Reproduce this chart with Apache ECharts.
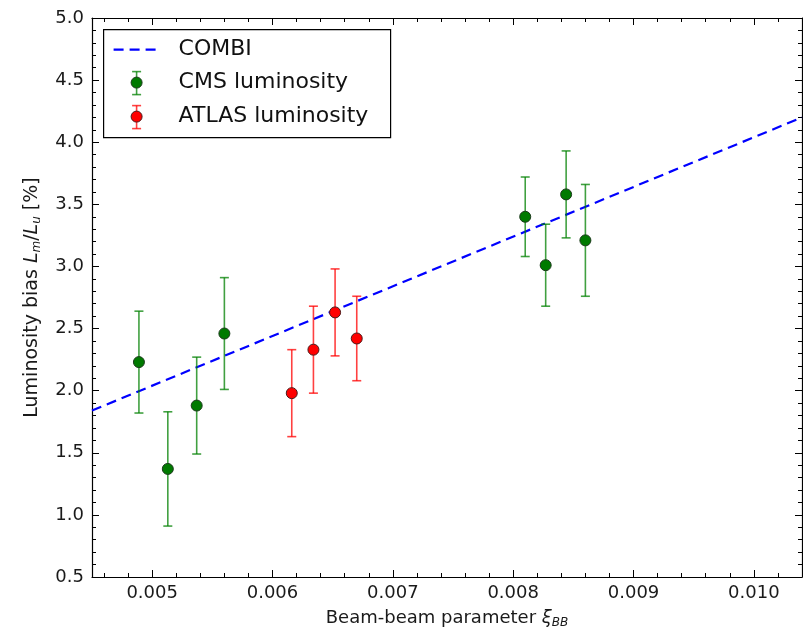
<!DOCTYPE html>
<html>
<head>
<meta charset="utf-8">
<script src="https://cdn.jsdelivr.net/npm/echarts@6/dist/echarts.min.js"></script>
<style>
  html, body { margin: 0; padding: 0; background: #fff; }
  #chart { width: 803px; height: 631px; }
</style>
</head>
<body>
<div id="chart"></div>
<script>
// Beam-beam parameter vs. luminosity bias
const cmsX   = [0.00489, 0.00513, 0.00537, 0.00560, 0.00810, 0.00827, 0.00844, 0.00860];
const cmsY   = [2.23, 1.37, 1.88, 2.46, 3.40, 3.01, 3.58, 3.21];
const cmsErr = [0.41, 0.46, 0.39, 0.45, 0.32, 0.33, 0.35, 0.45];

const atlasX   = [0.00616, 0.00634, 0.00652, 0.00670];
const atlasY   = [1.98, 2.33, 2.63, 2.42];
const atlasErr = [0.35, 0.35, 0.35, 0.34];

const combiX = [0.0045, 0.0104];
const combiY = [1.84, 4.20];

const xTicks = [0.005, 0.006, 0.007, 0.008, 0.009, 0.010];
const xMinorStep = 0.0002;
const xMin = 0.0045, xMax = 0.0104;
const yMin = 0.5, yMax = 5.0, yStep = 0.5;

const FONT = 'DejaVu Sans';
const CMS_BAR = 'rgba(0,128,0,0.75)';
const CMS_DOT = '#007a00';
const ATLAS_BAR = 'rgba(255,0,0,0.75)';
const ATLAS_DOT = '#ff0000';
const COMBI_COLOR = '#0000ff';

// minor tick positions along x (skip those on major ticks)
const xMinor = [];
for (let v = 0.0046; v < xMax; v += xMinorStep) {
  const r = Math.round(v * 1e5) / 1e5;
  if (Math.abs(r * 1000 - Math.round(r * 1000)) > 1e-6) xMinor.push(r);
}

function errorBars(xs, ys, es) {
  return xs.map((x, i) => [x, ys[i], es[i]]);
}

function renderErr(color) {
  return function (params, api) {
    const x = api.value(0), y = api.value(1), e = api.value(2);
    const top = api.coord([x, y + e]);
    const bot = api.coord([x, y - e]);
    const cap = 4.5;
    const st = { stroke: color, lineWidth: 1.6 };
    return {
      type: 'group',
      children: [
        { type: 'line', shape: { x1: top[0], y1: top[1], x2: bot[0], y2: bot[1] }, style: st },
        { type: 'line', shape: { x1: top[0] - cap, y1: top[1], x2: top[0] + cap, y2: top[1] }, style: st },
        { type: 'line', shape: { x1: bot[0] - cap, y1: bot[1], x2: bot[0] + cap, y2: bot[1] }, style: st }
      ]
    };
  };
}

const tickFmt = v => v.toFixed(3);

function xAxisDef(position, major, showLabel, showLine) {
  return {
    type: 'value', position: position, min: xMin, max: xMax, gridIndex: 0,
    axisLine: { show: showLine, onZero: false, lineStyle: { color: '#000', width: 1.2 } },
    axisTick: { show: true, inside: true, length: major ? 7 : 4,
      customValues: major ? xTicks : xMinor, lineStyle: { color: '#000', width: 1 } },
    axisLabel: { show: showLabel, customValues: xTicks, formatter: tickFmt, margin: 7,
      color: '#1a1a1a', fontFamily: FONT, fontSize: 18 },
    splitLine: { show: false }
  };
}

function yAxisDef(position, showLabel) {
  return {
    type: 'value', position: position, min: yMin, max: yMax, interval: yStep,
    axisLine: { show: true, onZero: false, lineStyle: { color: '#000', width: 1.2 } },
    axisTick: { show: true, inside: true, length: 7, lineStyle: { color: '#000', width: 1 } },
    minorTick: { show: true, splitNumber: 5, length: 4, lineStyle: { color: '#000', width: 1 } },
    axisLabel: { show: showLabel, formatter: v => v.toFixed(1), margin: 8,
      color: '#1a1a1a', fontFamily: FONT, fontSize: 18 },
    splitLine: { show: false },
    minorSplitLine: { show: false }
  };
}

const xBottom = xAxisDef('bottom', true, true, true);
xBottom.name = '{t|Beam-beam parameter }{i|ξ}{s|BB}';
xBottom.nameLocation = 'middle';
xBottom.nameGap = 30;
xBottom.nameTextStyle = {
  rich: {
    t: { fontFamily: FONT, fontSize: 18, color: '#1a1a1a' },
    i: { fontFamily: FONT, fontSize: 18, fontStyle: 'italic', color: '#1a1a1a' },
    s: { fontFamily: FONT, fontSize: 12, fontStyle: 'italic', color: '#1a1a1a', padding: [10, 0, 0, 0] }
  }
};

const yLeft = yAxisDef('left', true);
yLeft.name = '{t|Luminosity bias }{i|L}{s|m}{t|/}{i|L}{s|u}{t| [%]}';
yLeft.nameLocation = 'middle';
yLeft.nameGap = 49;
yLeft.nameTextStyle = {
  rich: {
    t: { fontFamily: FONT, fontSize: 19, color: '#1a1a1a' },
    i: { fontFamily: FONT, fontSize: 19, fontStyle: 'italic', color: '#1a1a1a' },
    s: { fontFamily: FONT, fontSize: 12, fontStyle: 'italic', color: '#1a1a1a', padding: [10, 0, 0, 0] }
  }
};

const option = {
  backgroundColor: '#fff',
  animation: false,
  grid: { left: 92, right: 1, top: 18, bottom: 54, containLabel: false, outerBoundsMode: 'none' },
  xAxis: [
    xBottom,
    xAxisDef('bottom', false, false, false),
    xAxisDef('top', true, false, true),
    xAxisDef('top', false, false, false)
  ],
  yAxis: [yLeft, yAxisDef('right', false)],
  series: [
    {
      name: 'COMBI', type: 'line', xAxisIndex: 0, yAxisIndex: 0,
      data: combiX.map((x, i) => [x, combiY[i]]),
      showSymbol: false, symbol: 'none', z: 2,
      lineStyle: { color: COMBI_COLOR, width: 2.2, type: [10, 6] }
    },
    {
      name: 'CMS err', type: 'custom', xAxisIndex: 0, yAxisIndex: 0, z: 3,
      data: errorBars(cmsX, cmsY, cmsErr), renderItem: renderErr(CMS_BAR)
    },
    {
      name: 'ATLAS err', type: 'custom', xAxisIndex: 0, yAxisIndex: 0, z: 3,
      data: errorBars(atlasX, atlasY, atlasErr), renderItem: renderErr(ATLAS_BAR)
    },
    {
      name: 'CMS luminosity', type: 'scatter', xAxisIndex: 0, yAxisIndex: 0, z: 4,
      data: cmsX.map((x, i) => [x, cmsY[i]]), symbolSize: 11,
      itemStyle: { color: CMS_DOT, borderColor: '#1c3a1c', borderWidth: 1, opacity: 1 }
    },
    {
      name: 'ATLAS luminosity', type: 'scatter', xAxisIndex: 0, yAxisIndex: 0, z: 4,
      data: atlasX.map((x, i) => [x, atlasY[i]]), symbolSize: 11,
      itemStyle: { color: ATLAS_DOT, borderColor: '#4a1a1a', borderWidth: 1, opacity: 1 }
    }
  ],
  graphic: [
    {
      type: 'group', left: 103, top: 29, z: 10,
      children: [
        { type: 'rect', shape: { x: 0, y: 0, width: 287, height: 108 },
          style: { fill: '#fff', stroke: '#000', lineWidth: 1.2 } },
        { type: 'line', shape: { x1: 10, y1: 20, x2: 57, y2: 20 },
          style: { stroke: COMBI_COLOR, lineWidth: 2.2, lineDash: [10, 6] } },
        { type: 'line', shape: { x1: 33, y1: 42, x2: 33, y2: 65 }, style: { stroke: CMS_BAR, lineWidth: 1.6 } },
        { type: 'line', shape: { x1: 28.5, y1: 42, x2: 37.5, y2: 42 }, style: { stroke: CMS_BAR, lineWidth: 1.6 } },
        { type: 'line', shape: { x1: 28.5, y1: 65, x2: 37.5, y2: 65 }, style: { stroke: CMS_BAR, lineWidth: 1.6 } },
        { type: 'circle', shape: { cx: 33, cy: 53, r: 5.5 },
          style: { fill: CMS_DOT, stroke: '#1c3a1c', lineWidth: 1 } },
        { type: 'line', shape: { x1: 33, y1: 76, x2: 33, y2: 99 }, style: { stroke: ATLAS_BAR, lineWidth: 1.6 } },
        { type: 'line', shape: { x1: 28.5, y1: 76, x2: 37.5, y2: 76 }, style: { stroke: ATLAS_BAR, lineWidth: 1.6 } },
        { type: 'line', shape: { x1: 28.5, y1: 99, x2: 37.5, y2: 99 }, style: { stroke: ATLAS_BAR, lineWidth: 1.6 } },
        { type: 'circle', shape: { cx: 33, cy: 87, r: 5.5 },
          style: { fill: ATLAS_DOT, stroke: '#4a1a1a', lineWidth: 1 } },
        { type: 'text', x: 75, y: 20, style: { text: 'COMBI', fontFamily: FONT, fontSize: 22,
          fill: '#111', verticalAlign: 'middle' } },
        { type: 'text', x: 75, y: 53, style: { text: 'CMS luminosity', fontFamily: FONT, fontSize: 22,
          fill: '#111', verticalAlign: 'middle' } },
        { type: 'text', x: 75, y: 87, style: { text: 'ATLAS luminosity', fontFamily: FONT, fontSize: 22,
          fill: '#111', verticalAlign: 'middle' } }
      ]
    }
  ]
};

const chart = echarts.init(document.getElementById('chart'), null, { renderer: 'canvas' });
chart.setOption(option);
</script>
</body>
</html>
